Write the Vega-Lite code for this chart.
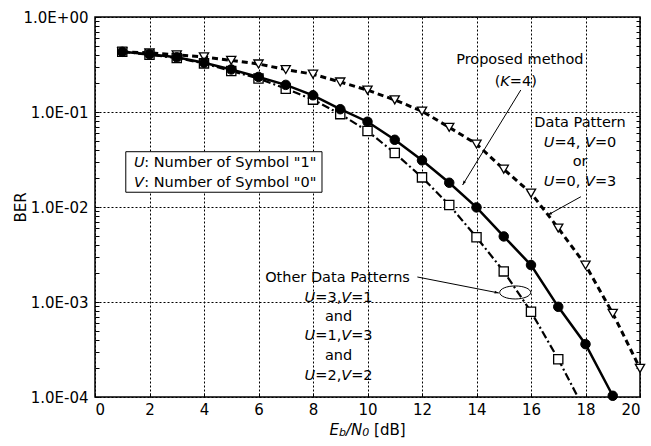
{
  "$schema": "https://vega.github.io/schema/vega-lite/v6.json",
  "width": 545,
  "height": 380,
  "autosize": {"type": "none"},
  "padding": {"left": 95, "top": 17, "right": 11, "bottom": 49},
  "background": "white",
  "config": {
    "view": {"stroke": "black", "strokeWidth": 1.5},
    "font": "DejaVu Sans",
    "axis": {"labelFont": "DejaVu Sans", "titleFont": "DejaVu Sans", "labelColor": "black", "titleColor": "black", "tickColor": "black", "gridColor": "black", "titleFontWeight": "normal", "domain": false},
    "text": {"font": "DejaVu Sans", "fontSize": 14.5, "color": "black", "baseline": "middle", "align": "left"}
  },
  "datasets": {
    "tri": [
      {"x": 1, "y": 0.43}, {"x": 2, "y": 0.42}, {"x": 3, "y": 0.40}, {"x": 4, "y": 0.38}, {"x": 5, "y": 0.35},
      {"x": 6, "y": 0.32}, {"x": 7, "y": 0.28}, {"x": 8, "y": 0.25}, {"x": 9, "y": 0.207}, {"x": 10, "y": 0.17},
      {"x": 11, "y": 0.134}, {"x": 12, "y": 0.102}, {"x": 13, "y": 0.069}, {"x": 14, "y": 0.046}, {"x": 15, "y": 0.025},
      {"x": 16, "y": 0.014}, {"x": 17, "y": 0.006}, {"x": 18, "y": 0.00245}, {"x": 19, "y": 0.00076}, {"x": 20, "y": 0.0002}
    ],
    "circ": [
      {"x": 1, "y": 0.43}, {"x": 2, "y": 0.405}, {"x": 3, "y": 0.376}, {"x": 4, "y": 0.33}, {"x": 5, "y": 0.28},
      {"x": 6, "y": 0.234}, {"x": 7, "y": 0.193}, {"x": 8, "y": 0.15}, {"x": 9, "y": 0.107}, {"x": 10, "y": 0.079},
      {"x": 11, "y": 0.051}, {"x": 12, "y": 0.031}, {"x": 13, "y": 0.018}, {"x": 14, "y": 0.0099}, {"x": 15, "y": 0.0049},
      {"x": 16, "y": 0.00245}, {"x": 17, "y": 0.00089}, {"x": 18, "y": 0.00036}, {"x": 19, "y": 0.000103}
    ],
    "sq": [
      {"x": 1, "y": 0.43}, {"x": 2, "y": 0.40}, {"x": 3, "y": 0.37}, {"x": 4, "y": 0.325}, {"x": 5, "y": 0.27},
      {"x": 6, "y": 0.225}, {"x": 7, "y": 0.176}, {"x": 8, "y": 0.135}, {"x": 9, "y": 0.095}, {"x": 10, "y": 0.063},
      {"x": 11, "y": 0.037}, {"x": 12, "y": 0.0205}, {"x": 13, "y": 0.0105}, {"x": 14, "y": 0.0048}, {"x": 15, "y": 0.0021},
      {"x": 16, "y": 0.00079}, {"x": 17, "y": 0.00025}, {"x": 18, "y": 0.00007}
    ],
    "box": [{"x": 1.13, "x2": 8.33, "y": 0.0382, "y2": 0.0143}],
    "boxtext": [
      {"x": 1.43, "y": 0.029, "l": "U", "r": ": Number of Symbol \"1\""},
      {"x": 1.43, "y": 0.0179, "l": "V", "r": ": Number of Symbol \"0\""}
    ],
    "notes": [
      {"x": 15.59, "y": 0.3526, "t": "Proposed method"},
      {"x": 17.8, "y": 0.0771, "t": "Data Pattern"},
      {"x": 17.8, "y": 0.030, "t": "or"},
      {"x": 8.9, "y": 0.00178, "t": "Other Data Patterns"},
      {"x": 8.94, "y": 0.0007, "t": "and"},
      {"x": 8.94, "y": 0.000272, "t": "and"}
    ],
    "kexpr": [{"x": 15.44, "y": 0.2084, "a": "(", "k": "K", "b": "=4)"}],
    "uvspace": [
      {"x": 17.8, "y": 0.0469, "u": "U", "a": "=4,", "v": "V", "b": "=0"},
      {"x": 17.8, "y": 0.01846, "u": "U", "a": "=0,", "v": "V", "b": "=3"}
    ],
    "uvtight": [
      {"x": 8.94, "y": 0.00111, "u": "U", "a": "=3,", "v": "V", "b": "=1"},
      {"x": 8.94, "y": 0.000439, "u": "U", "a": "=1,", "v": "V", "b": "=3"},
      {"x": 8.94, "y": 0.000168, "u": "U", "a": "=2,", "v": "V", "b": "=2"}
    ],
    "xtitle": [{"x": 10, "y": 0.000045, "e": "E", "s1": "b", "sl": "/N", "s2": "0", "unit": "[dB]"}],
    "arrows": [
      {"x": 15.625, "y": 0.1705, "x2": 13.49, "y2": 0.01705},
      {"x": 17.83, "y": 0.01283, "x2": 16.62, "y2": 0.00824},
      {"x": 11.83, "y": 0.001833, "x2": 14.82, "y2": 0.001244}
    ],
    "heads": [
      {"name": "a", "x": 13.49, "y": 0.01705},
      {"name": "b", "x": 16.62, "y": 0.00824},
      {"name": "c", "x": 14.82, "y": 0.001244}
    ],
    "ellipse": [{"x": 15.42, "y": 0.00126}]
  },
  "encoding": {
    "x": {
      "field": "x", "type": "quantitative",
      "scale": {"domain": [0, 20], "nice": false, "zero": false},
      "axis": {
        "values": [0, 2, 4, 6, 8, 10, 12, 14, 16, 18, 20],
        "grid": true, "gridDash": [2, 2], "gridWidth": 1,
        "tickSize": -4, "labelPadding": 9, "labelFontSize": 15,
        "title": null
      }
    },
    "y": {
      "field": "y", "type": "quantitative",
      "scale": {"type": "log", "domain": [0.0001, 1]},
      "axis": null
    }
  },
  "resolve": {"axis": {"y": "independent"}},
  "layer": [
    {
      "data": {"name": "tri"},
      "mark": {"type": "line", "color": "black", "strokeWidth": 3, "strokeDash": [6, 4]},
      "encoding": {
        "y": {
          "field": "y", "type": "quantitative",
          "scale": {"type": "log", "domain": [0.0001, 1]},
          "axis": {
            "orient": "left",
            "values": [0.0001, 0.0002, 0.0003, 0.0004, 0.0005, 0.0006, 0.0007, 0.0008, 0.0009, 0.001, 0.002, 0.003, 0.004, 0.005, 0.006, 0.007, 0.008, 0.009, 0.01, 0.02, 0.03, 0.04, 0.05, 0.06, 0.07, 0.08, 0.09, 0.1, 0.2, 0.3, 0.4, 0.5, 0.6, 0.7, 0.8, 0.9, 1],
            "labelExpr": "datum.value == 1 ? '1.0E+00' : datum.value == 0.1 ? '1.0E-01' : datum.value == 0.01 ? '1.0E-02' : datum.value == 0.001 ? '1.0E-03' : datum.value == 0.0001 ? '1.0E-04' : ''",
            "grid": true, "gridDash": [2, 2], "gridWidth": 1,
            "gridOpacity": {"condition": {"test": "datum.value == 1 || datum.value == 0.1 || datum.value == 0.01 || datum.value == 0.001 || datum.value == 0.0001", "value": 1}, "value": 0},
            "tickSize": -4, "labelPadding": 11, "labelFontSize": 15,
            "title": "BER", "titleFontSize": 15, "titleAngle": 270, "titleX": -75, "titleY": 190, "titleAlign": "center", "titleBaseline": "middle"
          }
        }
      }
    },
    {
      "data": {"name": "sq"},
      "mark": {"type": "line", "color": "black", "strokeWidth": 2.2, "strokeDash": [8, 3, 2, 3], "clip": true},
      "encoding": {
        "y": {
          "field": "y", "type": "quantitative",
          "scale": {"type": "log", "domain": [0.0001, 1]},
          "axis": {
            "orient": "right",
            "values": [0.0002, 0.0003, 0.0004, 0.0005, 0.0006, 0.0007, 0.0008, 0.0009, 0.002, 0.003, 0.004, 0.005, 0.006, 0.007, 0.008, 0.009, 0.02, 0.03, 0.04, 0.05, 0.06, 0.07, 0.08, 0.09, 0.2, 0.3, 0.4, 0.5, 0.6, 0.7, 0.8, 0.9],
            "labels": false, "grid": false, "tickSize": -4, "title": null
          }
        }
      }
    },
    {
      "data": {"name": "circ"},
      "mark": {"type": "line", "color": "black", "strokeWidth": 2.5}
    },
    {
      "data": {"name": "box"},
      "mark": {"type": "rect", "fill": "white", "stroke": "black", "strokeWidth": 1},
      "encoding": {"x2": {"field": "x2"}, "y2": {"field": "y2"}}
    },
    {
      "data": {"name": "boxtext"},
      "mark": {"type": "text", "fontStyle": "italic"},
      "encoding": {"text": {"field": "l"}}
    },
    {
      "data": {"name": "boxtext"},
      "mark": {"type": "text", "dx": 10.3},
      "encoding": {"text": {"field": "r"}}
    },
    {
      "data": {"name": "notes"},
      "mark": {"type": "text", "align": "center"},
      "encoding": {"text": {"field": "t"}}
    },
    {
      "data": {"name": "kexpr"},
      "mark": {"type": "text", "dx": -21.1},
      "encoding": {"text": {"field": "a"}}
    },
    {
      "data": {"name": "kexpr"},
      "mark": {"type": "text", "dx": -15.4, "fontStyle": "italic"},
      "encoding": {"text": {"field": "k"}}
    },
    {
      "data": {"name": "kexpr"},
      "mark": {"type": "text", "dx": -5.9},
      "encoding": {"text": {"field": "b"}}
    },
    {
      "data": {"name": "uvspace"},
      "mark": {"type": "text", "dx": -36.2, "fontStyle": "italic"},
      "encoding": {"text": {"field": "u"}}
    },
    {
      "data": {"name": "uvspace"},
      "mark": {"type": "text", "dx": -25.6},
      "encoding": {"text": {"field": "a"}}
    },
    {
      "data": {"name": "uvspace"},
      "mark": {"type": "text", "dx": 5.0, "fontStyle": "italic"},
      "encoding": {"text": {"field": "v"}}
    },
    {
      "data": {"name": "uvspace"},
      "mark": {"type": "text", "dx": 14.9},
      "encoding": {"text": {"field": "b"}}
    },
    {
      "data": {"name": "uvtight"},
      "mark": {"type": "text", "dx": -34.0, "fontStyle": "italic"},
      "encoding": {"text": {"field": "u"}}
    },
    {
      "data": {"name": "uvtight"},
      "mark": {"type": "text", "dx": -23.3},
      "encoding": {"text": {"field": "a"}}
    },
    {
      "data": {"name": "uvtight"},
      "mark": {"type": "text", "dx": 2.6, "fontStyle": "italic"},
      "encoding": {"text": {"field": "v"}}
    },
    {
      "data": {"name": "uvtight"},
      "mark": {"type": "text", "dx": 12.6},
      "encoding": {"text": {"field": "b"}}
    },
    {
      "data": {"name": "xtitle"},
      "mark": {"type": "text", "dx": -38, "fontStyle": "italic", "fontSize": 15},
      "encoding": {"text": {"field": "e"}}
    },
    {
      "data": {"name": "xtitle"},
      "mark": {"type": "text", "dx": -28.5, "dy": 3, "fontStyle": "italic", "fontSize": 11},
      "encoding": {"text": {"field": "s1"}}
    },
    {
      "data": {"name": "xtitle"},
      "mark": {"type": "text", "dx": -21.5, "fontStyle": "italic", "fontSize": 15},
      "encoding": {"text": {"field": "sl"}}
    },
    {
      "data": {"name": "xtitle"},
      "mark": {"type": "text", "dx": -5.2, "dy": 3, "fontStyle": "italic", "fontSize": 11},
      "encoding": {"text": {"field": "s2"}}
    },
    {
      "data": {"name": "xtitle"},
      "mark": {"type": "text", "dx": 6.6, "fontSize": 15},
      "encoding": {"text": {"field": "unit"}}
    },
    {
      "data": {"name": "tri"},
      "mark": {"type": "point", "shape": "triangle-down", "size": 85, "filled": true, "fill": "white", "stroke": "black", "strokeWidth": 1.3, "opacity": 1}
    },
    {
      "data": {"name": "sq"},
      "transform": [{"filter": "datum.y >= 0.0001"}],
      "mark": {"type": "point", "shape": "square", "size": 85, "filled": true, "fill": "white", "stroke": "black", "strokeWidth": 1.3, "opacity": 1}
    },
    {
      "data": {"name": "circ"},
      "mark": {"type": "point", "shape": "circle", "size": 90, "filled": true, "fill": "black", "stroke": "black", "strokeWidth": 1, "opacity": 1}
    },
    {
      "data": {"name": "arrows"},
      "mark": {"type": "rule", "color": "black", "strokeWidth": 1},
      "encoding": {"x2": {"field": "x2"}, "y2": {"field": "y2"}}
    },
    {
      "data": {"name": "heads"},
      "transform": [{"filter": "datum.name == 'a'"}],
      "mark": {"type": "point", "shape": "M0,0L-0.4,1.2L0.4,1.2Z", "size": 50, "filled": true, "color": "black", "opacity": 1, "angle": 211}
    },
    {
      "data": {"name": "heads"},
      "transform": [{"filter": "datum.name == 'b'"}],
      "mark": {"type": "point", "shape": "M0,0L-0.4,1.2L0.4,1.2Z", "size": 50, "filled": true, "color": "black", "opacity": 1, "angle": 241}
    },
    {
      "data": {"name": "heads"},
      "transform": [{"filter": "datum.name == 'c'"}],
      "mark": {"type": "point", "shape": "M0,0L-0.4,1.2L0.4,1.2Z", "size": 50, "filled": true, "color": "black", "opacity": 1, "angle": 101}
    },
    {
      "data": {"name": "ellipse"},
      "mark": {"type": "point", "shape": "M-1,0A1,0.42,0,1,1,1,0A1,0.42,0,1,1,-1,0Z", "size": 961, "filled": false, "stroke": "black", "strokeWidth": 1, "opacity": 1}
    }
  ]
}
